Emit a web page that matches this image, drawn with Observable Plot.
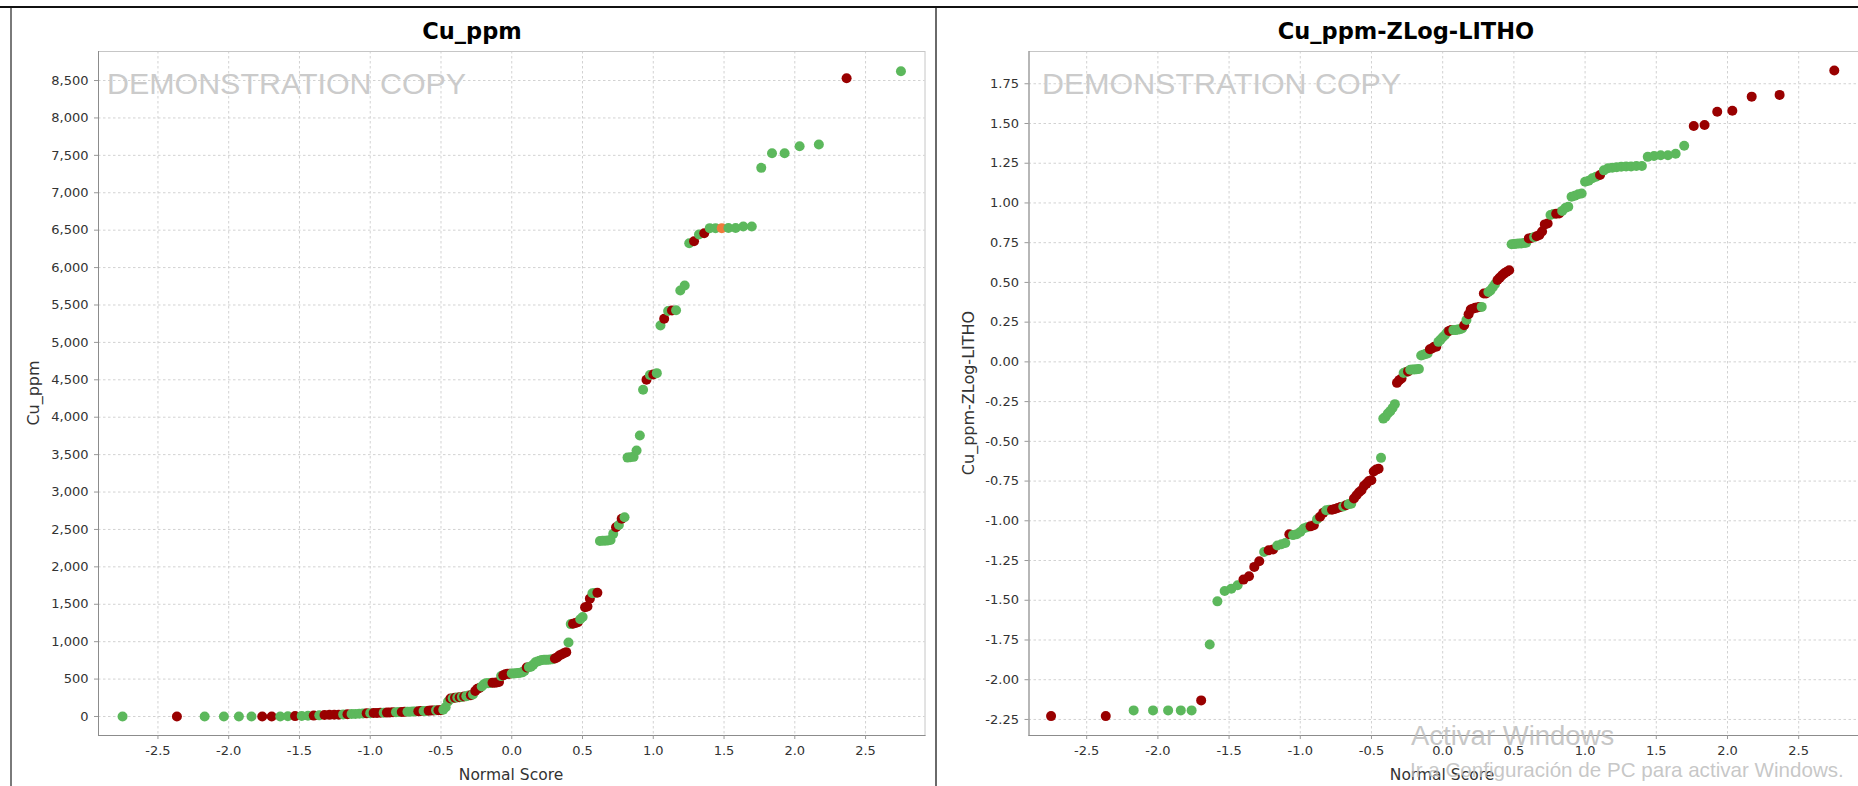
<!DOCTYPE html>
<html><head><meta charset="utf-8">
<script src="https://cdn.jsdelivr.net/npm/d3@7"></script>
<script src="https://cdn.jsdelivr.net/npm/@observablehq/plot@0.6"></script>
<style>
html,body{margin:0;padding:0;background:#fff;overflow:hidden;}
#page{position:relative;width:1858px;height:786px;overflow:hidden;background:#fff;}
.panel{position:absolute;top:0;}
#overlay{position:absolute;left:0;top:0;pointer-events:none;}
</style></head>
<body>
<div id="page">
  <div id="left" class="panel" style="left:0px"></div>
  <div id="right" class="panel" style="left:936px"></div>
  <svg id="overlay" width="1858" height="786"></svg>
</div>
<script>
// ---------- DATA ----------
const titles = ["Cu_ppm", "Cu_ppm-ZLog-LITHO"];
const xLabel = "Normal Score";
const yLabels = ["Cu_ppm", "Cu_ppm-ZLog-LITHO"];
const watermark = "DEMONSTRATION COPY";
const winLine1 = "Activar Windows";
const winLine2 = "Ir a Configuración de PC para activar Windows.";

const xTicks = [-2.5, -2, -1.5, -1, -0.5, 0, 0.5, 1, 1.5, 2, 2.5];
const cuTicks = [0, 500, 1000, 1500, 2000, 2500, 3000, 3500, 4000, 4500, 5000, 5500, 6000, 6500, 7000, 7500, 8000, 8500];
const zTicks = [-2.25, -2, -1.75, -1.5, -1.25, -1, -0.75, -0.5, -0.25, 0, 0.25, 0.5, 0.75, 1, 1.25, 1.5, 1.75];

const normalScore = [
-2.750,-2.366,-2.170,-2.034,-1.928,-1.839,-1.763,-1.696,-1.636,-1.582,
-1.531,-1.484,-1.440,-1.399,-1.360,-1.323,-1.288,-1.254,-1.222,-1.191,
-1.161,-1.132,-1.105,-1.077,-1.051,-1.025,-1.000,-0.976,-0.952,-0.928,
-0.905,-0.882,-0.861,-0.839,-0.818,-0.797,-0.777,-0.757,-0.737,-0.717,
-0.698,-0.679,-0.660,-0.642,-0.623,-0.605,-0.587,-0.570,-0.552,-0.535,
-0.518,-0.501,-0.484,-0.467,-0.450,-0.433,-0.417,-0.401,-0.385,-0.368,
-0.352,-0.336,-0.321,-0.305,-0.289,-0.274,-0.258,-0.243,-0.228,-0.212,
-0.197,-0.182,-0.167,-0.151,-0.136,-0.121,-0.106,-0.090,-0.075,-0.060,
-0.045,-0.030,-0.015,0.000,0.015,0.030,0.045,0.060,0.075,0.090,
0.106,0.121,0.136,0.151,0.167,0.182,0.197,0.212,0.228,0.243,
0.258,0.274,0.289,0.305,0.321,0.336,0.352,0.368,0.385,0.401,
0.417,0.433,0.450,0.467,0.484,0.501,0.518,0.535,0.552,0.570,
0.587,0.605,0.623,0.642,0.660,0.679,0.698,0.717,0.737,0.757,
0.777,0.797,0.818,0.839,0.861,0.882,0.905,0.928,0.952,0.976,
1.000,1.025,1.051,1.077,1.105,1.132,1.161,1.191,1.222,1.254,
1.288,1.323,1.360,1.399,1.440,1.484,1.531,1.582,1.636,1.696,
1.763,1.839,1.928,2.034,2.170,2.366,2.750];

const cuPpm = [
0,0,0,0,0,0,0,0,0,3,
5,8,10,12,15,20,22,24,25,28,
30,33,35,38,40,42,45,46,48,50,
50,52,55,56,58,60,60,62,63,65,
66,68,70,72,74,75,78,80,80,82,
84,85,90,125,200,240,245,250,255,258,
262,268,272,280,285,295,340,370,380,400,
430,445,446,448,450,452,455,460,540,550,
565,570,572,575,575,578,580,585,590,610,
655,660,665,690,725,735,745,755,757,758,
760,762,765,775,790,815,830,845,860,990,
1235,1240,1250,1260,1300,1330,1460,1470,1575,1648,
1650,1655,2345,2348,2350,2352,2360,2441,2530,2560,
2642,2664,3460,3466,3470,3555,3756,4366,4500,4565,
4570,4589,5226,5315,5420,5426,5430,5694,5760,6326,
6353,6442,6460,6527,6527,6527,6530,6530,6549,6549,
7333,7529,7529,7622,7645,8531,8625];

const cuGroup = ("GRGGGGRRGG" + "RGGRGRRRRG" + "RGGGGRGRRR" + "GRRRGGRRGG" + "GGRRGGRRRG" +
  "RRGGGRGRGR" + "GRGGRGRRRG" + "GGGGRRRRGR" + "RRRGGGGGGG" + "RGGGGGGGGG" +
  "GGGRRRRRRG" + "GRRRGGRRRG" + "GRGGGGGGRG" + "RGGGGGGGRG" + "RGGRGRGGGG" +
  "RGRGGOGGGG" + "GGGGGRG").split("");

const zlog = [
-2.229,-2.229,-2.193,-2.193,-2.193,-2.193,-2.193,-2.130,-1.778,-1.507,
-1.442,-1.427,-1.406,-1.370,-1.349,-1.290,-1.255,-1.196,-1.185,-1.180,
-1.155,-1.148,-1.140,-1.085,-1.090,-1.085,-1.070,-1.049,-1.040,-1.035,
-1.028,-0.990,-0.975,-0.950,-0.934,-0.930,-0.930,-0.925,-0.920,-0.913,
-0.910,-0.902,-0.895,-0.892,-0.860,-0.839,-0.820,-0.808,-0.780,-0.766,
-0.750,-0.745,-0.690,-0.678,-0.672,-0.604,-0.357,-0.345,-0.325,-0.310,
-0.290,-0.266,-0.132,-0.115,-0.105,-0.070,-0.063,-0.060,-0.050,-0.048,
-0.048,-0.046,-0.045,0.040,0.045,0.050,0.053,0.080,0.084,0.095,
0.095,0.126,0.140,0.155,0.168,0.185,0.195,0.200,0.200,0.200,
0.203,0.205,0.210,0.231,0.263,0.300,0.330,0.335,0.340,0.342,
0.345,0.346,0.430,0.430,0.440,0.450,0.470,0.490,0.515,0.530,
0.545,0.557,0.567,0.577,0.740,0.741,0.743,0.745,0.745,0.748,
0.750,0.777,0.780,0.785,0.790,0.798,0.820,0.865,0.871,0.924,
0.930,0.932,0.934,0.950,0.968,0.976,1.039,1.045,1.055,1.060,
1.133,1.140,1.155,1.165,1.176,1.205,1.218,1.222,1.225,1.228,
1.230,1.230,1.232,1.232,1.290,1.295,1.300,1.300,1.310,1.360,
1.484,1.490,1.574,1.580,1.669,1.680,1.833];

const zGroup = ("RRGGGGGRGG" + "GGGRRRRGRR" + "GGGRGGGGGR" + "RGRRGGRRRR" + "GRGGRRRRRR" +
  "RRRRRGGGGG" + "GGRRRGGRGG" + "GGGGGGGRRR" + "RGGGGGRRGG" + "GGGRGRRRRR" +
  "RGRRGGGGRR" + "RRRRGGGGGG" + "GRRGRRRRRG" + "GRRGGGGGGG" + "GGGGRGGGGG" +
  "GGGGGGGGGG" + "RRRRRRR").split("");

const groupKeys = ["G", "R", "O"];
const groupColors = ["#5cb85c", "#990000", "#ef7a3c"];

// ---------- BUILD ----------
const loc = d3.formatLocale({decimal: ".", thousands: ",", grouping: [3], currency: ["$", ""], minus: "-"});
const fX = loc.format(".1f"), fCu = loc.format(","), fZ = loc.format(".2f");

const leftData = normalScore.map((ns, i) => ({ns, v: cuPpm[i], g: cuGroup[i]}));
const rightData = normalScore.map((ns, i) => ({ns, v: zlog[i], g: zGroup[i]}));

const gridStyle = {stroke: "#d2d2d2", strokeOpacity: 1, strokeDasharray: "2.5,2.5"};
const styleBase = {fontFamily: "DejaVu Sans", fontSize: "13px", color: "#333", background: "transparent", overflow: "visible"};

function panel(data, yDomain, yTicks, yFmt, xDomain, opts) {
  return Plot.plot({
    width: opts.width, height: 786,
    marginLeft: opts.ml, marginRight: opts.mr, marginTop: 51, marginBottom: 51,
    style: styleBase,
    x: {domain: xDomain},
    y: {domain: yDomain},
    color: {domain: groupKeys, range: groupColors},
    marks: [
      Plot.gridX(xTicks, gridStyle),
      Plot.gridY(yTicks, gridStyle),
      Plot.frame({stroke: "#c6c6c6"}),
      Plot.frame({anchor: "left", stroke: "#8c8c8c"}),
      Plot.frame({anchor: "bottom", stroke: "#8c8c8c"}),
      Plot.axisX(xTicks, {tickFormat: fX, tickSize: 4, tickPadding: 6, label: null, stroke: "#999", fill: "#333"}),
      Plot.axisY(yTicks, {tickFormat: yFmt, tickSize: 4, tickPadding: 6, label: null, stroke: "#999", fill: "#333"}),
      Plot.dot(data, {x: "ns", y: "v", fill: "g", r: 5})
    ]
  });
}

document.getElementById("left").append(
  panel(leftData, [-254, 8888], cuTicks, fCu, [-2.92, 2.92], {width: 936, ml: 98, mr: 11.5})
);
document.getElementById("right").append(
  panel(rightData, [-2.351, 1.953], zTicks, fZ, [-2.905, 2.92], {width: 922, ml: 92.5, mr: 0})
);

// ---------- DECORATION (titles, labels, frames, watermarks) ----------
const ov = d3.select("#overlay");
ov.append("rect").attr("x", 0).attr("y", 6).attr("width", 1858).attr("height", 2).attr("fill", "#111");
ov.append("rect").attr("x", 10).attr("y", 8).attr("width", 2).attr("height", 778).attr("fill", "#7a7a7a");
ov.append("rect").attr("x", 935).attr("y", 8).attr("width", 2).attr("height", 778).attr("fill", "#6a6a6a");

const titleX = [472, 1406];
titles.forEach((t, i) => ov.append("text").text(t)
  .attr("x", titleX[i]).attr("y", 39).attr("text-anchor", "middle")
  .attr("font-family", "DejaVu Sans").attr("font-weight", "bold").attr("font-size", 22.5).attr("fill", "#000"));

const xLabelX = [511, 1442];
xLabelX.forEach(x => ov.append("text").text(xLabel)
  .attr("x", x).attr("y", 780).attr("text-anchor", "middle")
  .attr("font-family", "DejaVu Sans").attr("font-size", 15.5).attr("fill", "#333"));

const yLabelX = [38.5, 974];
yLabels.forEach((t, i) => ov.append("text").text(t)
  .attr("transform", `translate(${yLabelX[i]},393) rotate(-90)`).attr("text-anchor", "middle")
  .attr("font-family", "DejaVu Sans").attr("font-size", 16).attr("fill", "#333"));

[107, 1042].forEach(x => ov.append("text").text(watermark)
  .attr("x", x).attr("y", 94).attr("font-family", "Liberation Sans").attr("font-size", 30.4).attr("fill", "#cbcbcb"));

ov.append("text").text(winLine1).attr("x", 1411).attr("y", 745)
  .attr("font-family", "Liberation Sans").attr("font-size", 27.5).attr("fill", "#bdbdbd").attr("fill-opacity", 0.85);
ov.append("text").text(winLine2).attr("x", 1410).attr("y", 777)
  .attr("font-family", "Liberation Sans").attr("font-size", 20.6).attr("fill", "#bdbdbd").attr("fill-opacity", 0.85);
</script>
</body></html>
